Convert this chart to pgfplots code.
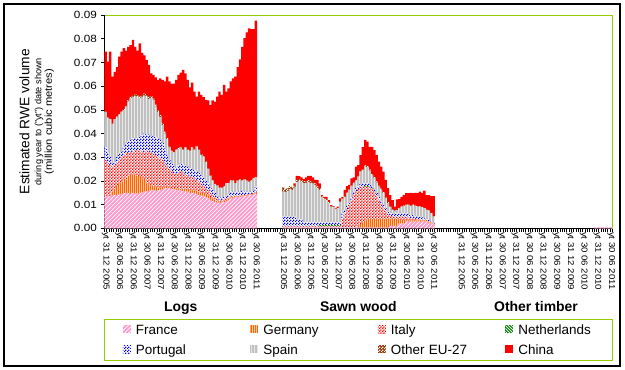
\documentclass[border=0pt]{standalone}
\usepackage{fontspec}
\setmainfont{Liberation Sans}
\newfontfamily\tickfont[FakeStretch=1.12]{Liberation Sans}
\usepackage{pgfplots}
\pgfplotsset{compat=1.18}
\usepackage{pgfplotstable}
\usetikzlibrary{patterns}
\definecolor{frpink}{HTML}{FF99CC}
\definecolor{deorange}{HTML}{FF6600}
\definecolor{nlgreen}{HTML}{008000}
\definecolor{esgray}{HTML}{C0C0C0}
\definecolor{otbrown}{HTML}{993300}
\definecolor{limeb}{HTML}{99CC00}
\definecolor{cnred}{HTML}{FF0000}
\definecolor{ptblue}{HTML}{0000FF}

\pgfdeclarepatternformonly{frlines}{\pgfqpoint{-1pt}{-1pt}}{\pgfqpoint{5pt}{5pt}}{\pgfqpoint{4pt}{4pt}}{%
  \pgfsetlinewidth{0.7pt}\pgfpathmoveto{\pgfqpoint{0pt}{0pt}}\pgfpathlineto{\pgfqpoint{4.1pt}{4.1pt}}\pgfusepath{stroke}}
\pgfdeclarepatternformonly{nllines}{\pgfqpoint{-1pt}{-1pt}}{\pgfqpoint{5pt}{5pt}}{\pgfqpoint{3pt}{3pt}}{%
  \pgfsetlinewidth{0.7pt}\pgfpathmoveto{\pgfqpoint{0pt}{3pt}}\pgfpathlineto{\pgfqpoint{3.1pt}{-0.1pt}}\pgfusepath{stroke}}
\pgfdeclarepatternformonly{destripes}{\pgfqpoint{0pt}{0pt}}{\pgfqpoint{2.4pt}{2pt}}{\pgfqpoint{2.4pt}{2pt}}{%
  \pgfpathrectangle{\pgfqpoint{0pt}{-0.1pt}}{\pgfqpoint{0.9pt}{2.2pt}}\pgfusepath{fill}}
\pgfdeclarepatternformonly{esstripes}{\pgfqpoint{0pt}{0pt}}{\pgfqpoint{3pt}{2pt}}{\pgfqpoint{3pt}{2pt}}{%
  \pgfpathrectangle{\pgfqpoint{0pt}{-0.1pt}}{\pgfqpoint{0.7pt}{2.2pt}}\pgfusepath{fill}}
\pgfdeclarepatternformonly{itdots}{\pgfqpoint{0pt}{0pt}}{\pgfqpoint{3.2pt}{3.2pt}}{\pgfqpoint{3.2pt}{3.2pt}}{%
  \pgfpathrectangle{\pgfqpoint{0pt}{0pt}}{\pgfqpoint{1.75pt}{1.75pt}}%
  \pgfpathrectangle{\pgfqpoint{1.6pt}{1.6pt}}{\pgfqpoint{1.75pt}{1.75pt}}\pgfusepath{fill}}
\pgfdeclarepatternformonly{checker}{\pgfqpoint{0pt}{0pt}}{\pgfqpoint{2.6pt}{2.6pt}}{\pgfqpoint{2.6pt}{2.6pt}}{%
  \pgfpathrectangle{\pgfqpoint{0pt}{0pt}}{\pgfqpoint{1.35pt}{1.35pt}}%
  \pgfpathrectangle{\pgfqpoint{1.3pt}{1.3pt}}{\pgfqpoint{1.35pt}{1.35pt}}\pgfusepath{fill}}

% x = category index; Logs 0-66, Sawn wood 78-144, Other timber 156-222
\pgfplotstableread{
x Fr De It Nl Pt Es Ot Cn
0 0.0135 0 0.0153 0 0.0057 0.0145 0.0002 0.0253
1 0.0135 0 0.0139 0 0.0046 0.0145 0.0002 0.0236
2 0.0135 0 0.0132 0 0.0033 0.0160 0.0002 0.0283
3 0.0138 0.0017 0.0105 0 0.0014 0.0166 0.0002 0.0198
4 0.0140 0.0025 0.0100 0 0.0015 0.0180 0.0002 0.0198
5 0.0140 0.0040 0.0094 0 0.0026 0.0170 0.0002 0.0208
6 0.0142 0.0048 0.0098 0 0.0028 0.0164 0.0002 0.0242
7 0.0145 0.0050 0.0105 0 0.0023 0.0167 0.0003 0.0252
8 0.0148 0.0062 0.0100 0 0.0035 0.0155 0.0003 0.0257
9 0.0150 0.0055 0.0111 0 0.0044 0.0153 0.0004 0.0233
10 0.0148 0.0072 0.0098 0 0.0048 0.0168 0.0006 0.0226
11 0.0145 0.0080 0.0098 0 0.0050 0.0175 0.0007 0.0218
12 0.0150 0.0078 0.0095 0 0.0057 0.0175 0.0007 0.0233
13 0.0148 0.0077 0.0105 0 0.0050 0.0178 0.0007 0.0201
14 0.0145 0.0075 0.0108 0 0.0050 0.0177 0.0007 0.0188
15 0.0150 0.0072 0.0106 0 0.0059 0.0161 0.0008 0.0224
16 0.0152 0.0058 0.0113 0 0.0071 0.0161 0.0008 0.0177
17 0.0155 0.0055 0.0113 0 0.0077 0.0160 0.0008 0.0162
18 0.0155 0.0035 0.0138 0 0.0068 0.0159 0.0008 0.0147
19 0.0158 0.0027 0.0138 0 0.0073 0.0150 0.0009 0.0135
20 0.0160 0.0020 0.0139 0 0.0068 0.0163 0.0008 0.0096
21 0.0160 0.0018 0.0138 0 0.0074 0.0150 0.0008 0.0099
22 0.0158 0.0017 0.0135 0 0.0075 0.0128 0.0009 0.0115
23 0.0160 0.0012 0.0128 0 0.0080 0.0110 0.0008 0.0128
24 0.0162 0.0010 0.0123 0 0.0078 0.0097 0.0008 0.0155
25 0.0165 0.0010 0.0113 0 0.0072 0.0076 0.0008 0.0182
26 0.0168 0.0007 0.0099 0 0.0063 0.0063 0.0008 0.0212
27 0.0170 0.0005 0.0085 0 0.0050 0.0065 0.0007 0.0258
28 0.0168 0.0004 0.0078 0 0.0038 0.0052 0.0005 0.0275
29 0.0165 0.0005 0.0070 0 0.0034 0.0051 0.0003 0.0282
30 0.0165 0.0005 0.0062 0 0.0030 0.0058 0.0003 0.0287
31 0.0162 0.0006 0.0064 0 0.0023 0.0075 0.0003 0.0293
32 0.0160 0.0008 0.0066 0 0.0033 0.0068 0.0003 0.0309
33 0.0160 0.0005 0.0075 0 0.0034 0.0066 0.0003 0.0314
34 0.0158 0.0007 0.0070 0 0.0035 0.0060 0.0003 0.0335
35 0.0155 0.0010 0.0060 0 0.0037 0.0078 0.0003 0.0311
36 0.0155 0.0010 0.0057 0 0.0038 0.0070 0.0003 0.0293
37 0.0150 0.0010 0.0058 0 0.0037 0.0070 0.0003 0.0267
38 0.0150 0.0010 0.0056 0 0.0034 0.0090 0.0003 0.0272
39 0.0148 0.0012 0.0050 0 0.0036 0.0084 0.0003 0.0244
40 0.0145 0.0013 0.0046 0 0.0038 0.0103 0.0003 0.0208
41 0.0140 0.0015 0.0042 0 0.0041 0.0092 0.0003 0.0244
42 0.0138 0.0012 0.0040 0 0.0035 0.0085 0.0003 0.0250
43 0.0135 0.0013 0.0031 0 0.0036 0.0085 0.0003 0.0250
44 0.0130 0.0015 0.0024 0 0.0031 0.0080 0.0003 0.0259
45 0.0125 0.0013 0.0024 0 0.0028 0.0060 0.0002 0.0288
46 0.0120 0.0012 0.0018 0 0.0026 0.0044 0.0002 0.0298
47 0.0115 0.0010 0.0015 0 0.0022 0.0038 0.0002 0.0338
48 0.0112 0.0008 0.0011 0 0.0019 0.0035 0.0002 0.0348
49 0.0110 0.0005 0.0010 0 0.0013 0.0042 0.0002 0.0374
50 0.0105 0.0005 0.0008 0 0.0012 0.0040 0.0002 0.0405
51 0.0108 0.0004 0.0008 0 0.0008 0.0042 0.0002 0.0391
52 0.0110 0.0005 0.0007 0 0.0010 0.0043 0.0002 0.0428
53 0.0115 0.0005 0.0005 0 0.0013 0.0052 0.0002 0.0385
54 0.0120 0.0005 0.0005 0 0.0015 0.0045 0.0002 0.0398
55 0.0125 0.0005 0.0005 0 0.0020 0.0045 0.0002 0.0418
56 0.0128 0.0004 0.0004 0 0.0019 0.0045 0.0002 0.0431
57 0.0130 0.0005 0.0002 0 0.0015 0.0038 0.0002 0.0448
58 0.0132 0.0003 0.0002 0 0.0018 0.0045 0.0002 0.0478
59 0.0132 0.0003 0.0003 0 0.0014 0.0053 0.0002 0.0506
60 0.0135 0.0003 0.0002 0 0.0018 0.0042 0.0002 0.0564
61 0.0135 0.0003 0.0002 0 0.0015 0.0050 0.0002 0.0595
62 0.0138 0.0002 0.0002 0 0.0010 0.0048 0.0002 0.0625
63 0.0140 0.0002 0.0002 0 0.0008 0.0043 0.0002 0.0647
64 0.0140 0.0002 0.0003 0 0.0010 0.0045 0.0002 0.0638
65 0.0142 0.0003 0.0003 0 0.0010 0.0052 0.0002 0.0628
66 0.0145 0.0003 0.0007 0 0.0021 0.0039 0.0002 0.0659
78 0.0003 0 0.0005 0 0.0041 0.0106 0.0018 0
79 0.0003 0 0.0005 0 0.0041 0.0103 0.0013 0
80 0.0003 0 0.0005 0 0.0041 0.0109 0.0011 0
81 0.0003 0 0.0005 0 0.0041 0.0116 0.0013 0
82 0.0003 0 0.0005 0 0.0041 0.0111 0.0013 0
83 0.0003 0 0.0005 0 0.0041 0.0123 0.0010 0.0008
84 0.0003 0 0.0005 0 0.0030 0.0157 0.0008 0.0018
85 0.0003 0 0.0005 0 0.0030 0.0162 0.0008 0.0012
86 0.0003 0 0.0005 0 0.0030 0.0157 0.0008 0.0012
87 0.0003 0 0.0005 0 0.0017 0.0165 0.0008 0.0009
88 0.0003 0 0.0005 0 0.0017 0.0165 0.0008 0.0017
89 0.0003 0 0.0005 0 0.0017 0.0170 0.0008 0.0018
90 0.0003 0 0.0005 0 0.0017 0.0165 0.0008 0.0023
91 0.0003 0 0.0005 0 0.0017 0.0163 0.0008 0.0019
92 0.0003 0 0.0005 0 0.0017 0.0158 0.0007 0.0014
93 0.0003 0 0.0005 0 0.0017 0.0144 0.0008 0.0027
94 0.0003 0 0.0005 0.0005 0.0012 0.0137 0.0008 0.0020
95 0.0003 0 0.0005 0.0005 0.0012 0.0105 0.0005 0.0005
96 0.0003 0 0.0005 0.0005 0.0012 0.0097 0.0005 0.0006
97 0.0003 0 0.0005 0.0005 0.0012 0.0094 0.0005 0.0009
98 0.0003 0 0.0005 0.0005 0.0012 0.0080 0.0005 0.0009
99 0.0003 0 0.0005 0.0005 0.0012 0.0066 0.0003 0.0004
100 0.0003 0 0.0005 0.0005 0.0012 0.0063 0.0003 0.0003
101 0.0003 0 0.0005 0.0005 0.0012 0.0055 0.0002 0.0002
102 0.0003 0 0.0005 0.0005 0.0012 0.0059 0.0002 0.0005
103 0.0003 0 0.0005 0.0005 0.0012 0.0087 0.0003 0.0011
104 0.0003 0 0.0037 0 0.0023 0.0059 0.0003 0.0008
105 0.0003 0 0.0059 0 0.0015 0.0056 0.0003 0.0026
106 0.0003 0 0.0077 0 0.0014 0.0054 0.0003 0.0027
107 0.0003 0 0.0095 0 0.0014 0.0050 0.0003 0.0018
108 0.0003 0 0.0117 0 0.0013 0.0045 0.0003 0.0030
109 0.0003 0 0.0139 0 0.0013 0.0035 0.0003 0.0022
110 0.0003 0 0.0153 0 0.0013 0.0032 0.0003 0.0056
111 0.0003 0.0007 0.0155 0 0.0013 0.0040 0.0003 0.0046
112 0.0003 0.0015 0.0156 0 0.0013 0.0052 0.0003 0.0067
113 0.0003 0.0022 0.0151 0 0.0014 0.0056 0.0003 0.0093
114 0.0003 0.0029 0.0143 0.0003 0.0012 0.0070 0.0005 0.0108
115 0.0003 0.0037 0.0135 0.0003 0.0012 0.0067 0.0005 0.0104
116 0.0003 0.0037 0.0133 0.0003 0.0011 0.0056 0.0005 0.0096
117 0.0003 0.0037 0.0125 0.0003 0.0010 0.0047 0.0005 0.0114
118 0.0003 0.0037 0.0112 0.0003 0.0010 0.0046 0.0005 0.0114
119 0.0003 0.0037 0.0097 0 0.0013 0.0043 0.0005 0.0111
120 0.0003 0.0037 0.0080 0 0.0013 0.0043 0.0005 0.0100
121 0.0003 0.0037 0.0063 0 0.0013 0.0046 0.0005 0.0093
122 0.0003 0.0037 0.0046 0 0.0012 0.0050 0.0005 0.0086
123 0.0003 0.0037 0.0032 0 0.0012 0.0042 0.0005 0.0073
124 0.0003 0.0037 0.0020 0 0.0010 0.0035 0.0005 0.0059
125 0.0010 0.0030 0.0012 0 0.0011 0.0025 0.0005 0.0047
126 0.0010 0.0030 0.0010 0 0.0013 0.0014 0.0005 0.0037
127 0.0010 0.0030 0.0008 0 0.0012 0.0010 0.0005 0.0016
128 0.0010 0.0030 0.0008 0 0.0015 0.0014 0.0005 0.0040
129 0.0020 0.0016 0.0012 0 0.0015 0.0021 0.0002 0.0037
130 0.0020 0.0016 0.0014 0 0.0016 0.0025 0.0002 0.0040
131 0.0020 0.0016 0.0012 0 0.0015 0.0031 0.0002 0.0044
132 0.0028 0.0005 0.0014 0 0.0016 0.0035 0.0002 0.0048
133 0.0028 0.0005 0.0012 0 0.0015 0.0038 0.0002 0.0048
134 0.0028 0.0005 0.0009 0 0.0014 0.0038 0.0002 0.0054
135 0.0028 0.0005 0.0009 0 0.0014 0.0042 0.0002 0.0048
136 0.0028 0.0005 0.0007 0 0.0012 0.0042 0.0002 0.0054
137 0.0028 0.0005 0.0005 0 0.0011 0.0042 0.0002 0.0055
138 0.0028 0.0005 0.0004 0 0.0012 0.0042 0.0002 0.0062
139 0.0028 0.0005 0.0003 0 0.0010 0.0042 0.0002 0.0060
140 0.0028 0.0005 0.0003 0 0.0006 0.0042 0.0002 0.0073
141 0.0028 0.0005 0.0002 0 0.0003 0.0039 0.0002 0.0061
142 0.0020 0.0005 0.0005 0 0.0005 0.0039 0.0002 0.0064
143 0.0020 0.0005 0 0 0.0003 0.0035 0.0002 0.0071
144 0.0015 0.0001 0.0003 0 0.0002 0.0028 0.0002 0.0085
215 0.0004 0 0 0 0 0 0 0
216 0.0004 0 0 0 0 0 0 0
217 0.0004 0 0 0 0 0 0 0
218 0.0004 0 0 0 0 0 0 0
219 0.0004 0 0 0 0 0 0 0
220 0.0004 0 0 0 0 0 0 0
221 0.0004 0 0 0 0 0 0 0
222 0.0004 0 0 0 0 0 0 0
}\data

\begin{document}
\begin{tikzpicture}
\begin{axis}[
  at={(0,0)}, anchor=south west,
  scale only axis, width=507.8bp, height=213.3bp,
  ybar stacked, bar width=1.06,
  xmin=-0.5, xmax=222.5, ymin=0, ymax=0.09,
  clip=false,
  axis line style={draw=limeb, line width=0.9bp},
  tick align=outside, tick pos=left,
  major tick length=3.5bp,
  tick style={black, line width=0.6bp},
  xtick={-0.5,0.5,...,222.5}, xticklabels={,,},
  extra x ticks={0,6,12,18,24,30,36,42,48,54,60,66,78,84,90,96,102,108,114,120,126,132,138,144,156,162,168,174,180,186,192,198,204,210,216,222},
  extra x tick labels={yt 31 12 2005,yt 30 06 2006,yt 31 12 2006,yt 30 06 2007,yt 31 12 2007,yt 30 06 2008,yt 31 12 2008,yt 30 06 2009,yt 31 12 2009,yt 30 06 2010,yt 31 12 2010,yt 30 06 2011,yt 31 12 2005,yt 30 06 2006,yt 31 12 2006,yt 30 06 2007,yt 31 12 2007,yt 30 06 2008,yt 31 12 2008,yt 30 06 2009,yt 31 12 2009,yt 30 06 2010,yt 31 12 2010,yt 30 06 2011,yt 31 12 2005,yt 30 06 2006,yt 31 12 2006,yt 30 06 2007,yt 31 12 2007,yt 30 06 2008,yt 31 12 2008,yt 30 06 2009,yt 31 12 2009,yt 30 06 2010,yt 31 12 2010,yt 30 06 2011},
  extra x tick style={tick style={draw=none}},
  xticklabel style={font=\tickfont\fontsize{8.6}{9}\selectfont, rotate=-90, anchor=west, inner sep=0pt},
  ytick={0,0.01,0.02,0.03,0.04,0.05,0.06,0.07,0.08,0.09},
  scaled y ticks=false,
  yticklabel style={font=\tickfont\fontsize{10.5}{12}\selectfont, inner sep=0pt, xshift=-4bp,
    /pgf/number format/fixed, /pgf/number format/fixed zerofill, /pgf/number format/precision=2,
    /pgf/number format/assume math mode=true},
  ylabel={{\fontsize{13.8}{14}\selectfont Estimated RWE volume}\\[1.5bp]during year to ("yt") date shown\\{\tickfont\fontsize{10}{10.5}\selectfont (million cubic metres)}},
  ylabel style={at={(axis description cs:-0.0994,0.5)}, anchor=south, align=center, inner sep=0pt,
    font=\fontsize{9.2}{10.5}\selectfont},
  legend columns=4,
  legend cell align=left,
  legend style={draw=none, fill=none, at={(axis description cs:0.0358,-0.4487)}, anchor=north west,
    inner sep=0pt, column sep=0pt, row sep=7bp, font=\fontsize{13.5}{15}\selectfont,
    nodes={inner sep=0pt, text width=114.5bp, text height=10bp, text depth=3bp},
    /tikz/every odd column/.style={column sep=5bp},
    /tikz/every even column/.style={column sep=0bp}},
  legend image code/.code={\fill[#1] (0bp,-2.5bp) rectangle (8bp,5.5bp);},
]
\addplot[fill=frpink, draw=none, postaction={pattern=frlines, pattern color=white}] table[x=x, y=Fr] {\data};
\addplot[fill=deorange, draw=none, postaction={pattern=destripes, pattern color=white}] table[x=x, y=De] {\data};
\addplot[fill=white, draw=none, postaction={pattern=itdots, pattern color=cnred}] table[x=x, y=It] {\data};
\addplot[fill=nlgreen, draw=none, postaction={pattern=nllines, pattern color=white}] table[x=x, y=Nl] {\data};
\addplot[fill=white, draw=none, postaction={pattern=checker, pattern color=ptblue}] table[x=x, y=Pt] {\data};
\addplot[fill=esgray, draw=none, postaction={pattern=esstripes, pattern color=white}] table[x=x, y=Es] {\data};
\addplot[fill=otbrown, draw=none, postaction={pattern=checker, pattern color=white}] table[x=x, y=Ot] {\data};
\addplot[fill=cnred, draw=none] table[x=x, y=Cn] {\data};
\legend{France,Germany,Italy,Netherlands,Portugal,Spain,Other EU-27,China}
\draw[black, line width=0.9bp] (rel axis cs:0,1) -- (rel axis cs:0,0) -- (rel axis cs:1,0);
\node[font=\bfseries\fontsize{14}{16}\selectfont, anchor=base, yshift=-82.7bp] at (axis cs:33,0) {Logs};
\node[font=\bfseries\fontsize{14}{16}\selectfont, anchor=base, yshift=-82.7bp] at (axis cs:111,0) {Sawn wood};
\node[font=\bfseries\fontsize{14}{16}\selectfont, anchor=base, yshift=-82.7bp] at (axis cs:189,0) {Other timber};
\end{axis}
\draw[limeb, line width=1bp] (-0.2bp,-91bp) rectangle (507.8bp,-131.7bp);
\draw[black, line width=1.2bp] (-100.5bp,-137.7bp) rectangle (515.5bp,224.3bp);
\pgfresetboundingbox
\path[use as bounding box] (-104.5bp,-141.7bp) rectangle (520.5bp,228.3bp);
\end{tikzpicture}
\end{document}
